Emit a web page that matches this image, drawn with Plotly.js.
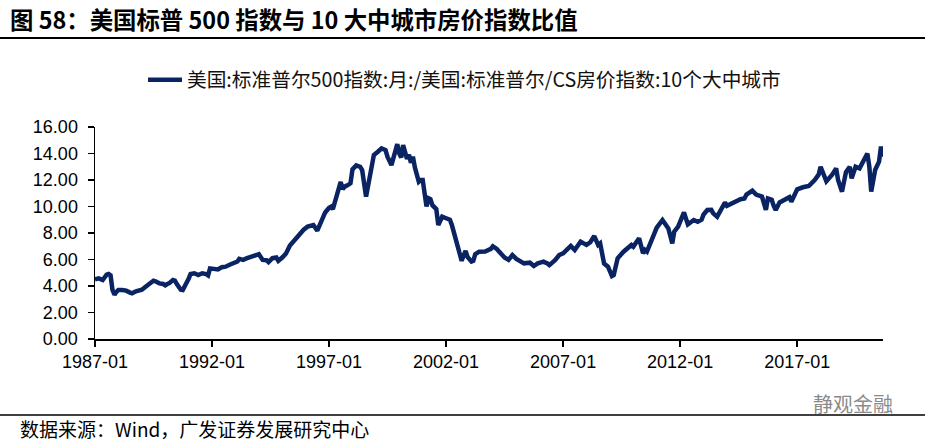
<!DOCTYPE html>
<html>
<head>
<meta charset="utf-8">
<script src="https://cdn.plot.ly/plotly-3.0.1.min.js"></script>
<style>
html,body{margin:0;padding:0;background:#fff;}
#chart{width:925px;height:444px;}
</style>
</head>
<body>
<div id="chart"></div>
<script>
// Months (YYYY-MM) and ratio of S&P 500 to Case-Shiller 10-city index
var months = [
"1987-01","1987-03","1987-05","1987-07","1987-08","1987-09","1987-10","1987-11","1987-12",
"1988-01","1988-03","1988-05","1988-07","1988-08","1988-10","1988-12",
"1989-01","1989-03","1989-05","1989-07","1989-08","1989-10","1989-12",
"1990-01","1990-02","1990-03","1990-05","1990-06","1990-07","1990-08","1990-09","1990-10","1990-11","1990-12",
"1991-01","1991-02","1991-04","1991-06","1991-08","1991-10","1991-11","1991-12",
"1992-02","1992-04","1992-06","1992-08","1992-10","1992-12",
"1993-02","1993-03","1993-05","1993-07","1993-09","1993-11",
"1994-01","1994-03","1994-05","1994-06","1994-08","1994-10","1994-11",
"1995-01","1995-03","1995-05","1995-07","1995-08","1995-10","1995-12",
"1996-02","1996-05","1996-07","1996-09","1996-11",
"1997-01","1997-02","1997-03","1997-05","1997-07","1997-08","1997-09","1997-11","1997-12",
"1998-01","1998-03","1998-05","1998-06","1998-08","1998-09","1998-10","1998-12",
"1999-02","1999-04","1999-06","1999-07","1999-09","1999-10","1999-12",
"2000-01","2000-02","2000-03","2000-05","2000-06","2000-07","2000-08","2000-09","2000-11","2000-12",
"2001-01","2001-02","2001-03","2001-04","2001-05","2001-06","2001-08","2001-09","2001-10","2001-11",
"2002-01","2002-03","2002-04","2002-05","2002-06","2002-07","2002-09","2002-10","2002-11","2002-12",
"2003-02","2003-03","2003-04","2003-06","2003-09","2003-12",
"2004-01","2004-03","2004-05","2004-07","2004-09","2004-11",
"2005-01","2005-03","2005-05","2005-08","2005-10","2005-12",
"2006-03","2006-05","2006-06","2006-09","2006-11",
"2007-01","2007-03","2007-05","2007-07","2007-09","2007-10",
"2008-01","2008-03","2008-05","2008-07","2008-08","2008-10","2008-12",
"2009-02","2009-03","2009-05","2009-08","2009-12",
"2010-01","2010-04","2010-06","2010-07","2010-08","2010-10",
"2011-01","2011-04","2011-06","2011-07","2011-09","2011-10","2011-12",
"2012-03","2012-05","2012-08","2012-10","2012-12",
"2013-01","2013-03","2013-05","2013-06","2013-08","2013-10","2013-12",
"2014-01","2014-03","2014-05","2014-08","2014-10","2014-11",
"2015-02","2015-04","2015-07","2015-08","2015-09","2015-10","2015-12",
"2016-01","2016-02","2016-04","2016-07","2016-09","2016-10",
"2017-01","2017-04","2017-07","2017-10","2017-12",
"2018-01","2018-03","2018-04","2018-07","2018-09","2018-10","2018-12",
"2019-02","2019-04","2019-05","2019-07","2019-09","2019-11",
"2020-01","2020-02","2020-03","2020-05","2020-07","2020-08","2020-09"
];
var ratio = [
4.50,4.58,4.45,4.85,4.90,4.80,3.70,3.35,3.55,
3.70,3.70,3.65,3.50,3.45,3.60,3.65,
3.72,3.95,4.15,4.40,4.35,4.20,4.15,
4.05,4.15,4.20,4.45,4.40,4.15,3.90,3.72,3.70,3.95,4.20,
4.55,4.90,4.96,4.83,4.96,4.90,4.80,5.33,
5.28,5.25,5.42,5.46,5.60,5.75,
5.85,6.05,5.97,6.10,6.20,6.25,
6.40,5.97,5.95,5.80,6.10,6.15,5.90,
6.15,6.46,7.05,7.40,7.60,7.85,8.25,
8.48,8.60,8.18,8.95,9.55,
9.90,9.99,9.80,11.00,11.85,11.30,11.50,11.65,11.75,
12.80,13.10,13.00,12.75,10.74,11.50,12.25,13.89,
14.13,14.39,14.26,13.76,13.13,13.70,14.70,
14.00,13.70,14.64,13.60,13.90,13.30,13.76,12.95,11.87,12.00,
12.00,10.74,10.00,10.62,10.55,10.10,9.80,8.60,8.98,9.23,
9.11,9.00,8.60,8.10,7.47,6.85,5.90,6.30,6.65,6.20,
5.84,5.90,6.40,6.59,6.60,6.80,
7.00,6.80,6.47,6.15,5.97,6.34,
6.05,5.90,5.71,5.76,5.51,5.71,
5.84,5.70,5.58,5.97,6.34,
6.47,6.75,7.02,6.72,7.20,7.35,
7.10,7.30,7.77,7.10,7.22,5.70,5.46,
4.75,4.83,6.09,6.59,7.10,
6.97,7.60,6.47,6.72,6.60,7.35,
8.40,8.98,8.48,8.35,7.22,8.10,8.48,
9.55,8.65,8.98,8.85,9.00,
9.40,9.74,9.75,9.48,9.23,9.86,10.30,
10.05,10.20,10.36,10.55,10.60,10.90,
11.20,10.90,10.75,10.20,9.74,10.60,10.50,
10.05,9.74,10.30,10.50,10.70,10.36,
11.30,11.45,11.55,12.00,12.40,
13.00,12.26,11.90,12.40,12.88,12.00,11.12,
12.60,13.00,12.13,13.00,12.88,13.38,
14.00,13.00,11.12,12.75,13.38,14.52,13.76
];
var seriesName = "美国:标准普尔500指数:月:/美国:标准普尔/CS房价指数:10个大中城市";
var xTickStart = "1987-01-01";
var chartTitle = "图 58：美国标普 500 指数与 10 大中城市房价指数比值";
var sourceText = "数据来源：Wind，广发证券发展研究中心";
var watermark = "静观金融";

var W = 925, H = 444, L = 95, R = 42, T = 127, B = 105;
var pw = W - L - R, ph = H - T - B;
function px(X){ return (X - L) / pw; }
function py(Y){ return (H - B - Y) / ph; }

var latin = "Liberation Sans, Arial, 'Noto Sans CJK SC', sans-serif";
var cjk = "'Noto Sans CJK SC', 'Liberation Sans', sans-serif";

var trace = {
  x: months.map(function(m){ return m + "-01"; }),
  y: ratio,
  type: "scatter",
  mode: "lines",
  name: seriesName,
  line: {color: "#0a2463", width: 4.5, shape: "linear"}
};

var layout = {
  width: W, height: H,
  margin: {l: L, r: R, t: T, b: B, pad: 0},
  paper_bgcolor: "#fff", plot_bgcolor: "#fff",
  showlegend: true,
  legend: {
    x: px(143), y: py(80), xanchor: "left", yanchor: "middle",
    orientation: "h", itemwidth: 34,
    font: {family: cjk, size: 19.7, color: "#111"},
    bgcolor: "rgba(0,0,0,0)"
  },
  xaxis: {
    type: "date",
    range: ["1987-01-01", "2020-09-01"],
    tick0: xTickStart, dtick: "M60",
    tickformat: "%Y-%m",
    showgrid: false, zeroline: false,
    showline: true, linecolor: "#000", linewidth: 1.5,
    ticks: "outside", ticklen: 6, tickwidth: 1.5, tickcolor: "#000",
    tickfont: {family: latin, size: 18, color: "#000"}
  },
  yaxis: {
    range: [0, 16], dtick: 2, tick0: 0,
    tickformat: ".2f",
    showgrid: false, zeroline: false,
    showline: true, linecolor: "#000", linewidth: 1.5,
    ticks: "outside", ticklen: 6, tickwidth: 1.5, tickcolor: "#000",
    ticklabelstandoff: 6,
    tickfont: {family: latin, size: 18, color: "#000"}
  },
  shapes: [
    {type: "line", xref: "paper", yref: "paper", x0: px(0), x1: px(925), y0: py(38), y1: py(38),
     line: {color: "#000", width: 2}},
    {type: "line", xref: "paper", yref: "paper", x0: px(0), x1: px(925), y0: py(415), y1: py(415),
     line: {color: "#000", width: 1.5}}
  ],
  annotations: [
    {text: "<b>" + chartTitle + "</b>", xref: "paper", yref: "paper", x: px(8), y: py(19),
     xanchor: "left", yanchor: "middle", showarrow: false,
     font: {family: cjk, size: 23.4, color: "#000"}},
    {text: sourceText, xref: "paper", yref: "paper", x: px(18), y: py(428),
     xanchor: "left", yanchor: "middle", showarrow: false,
     font: {family: cjk, size: 19, color: "#000"}},
    {text: watermark, xref: "paper", yref: "paper", x: px(895), y: py(403),
     xanchor: "right", yanchor: "middle", showarrow: false,
     font: {family: cjk, size: 20, color: "#8a8a8a"}}
  ]
};

Plotly.newPlot("chart", [trace], layout, {displayModeBar: false, staticPlot: true});
</script>
</body>
</html>
